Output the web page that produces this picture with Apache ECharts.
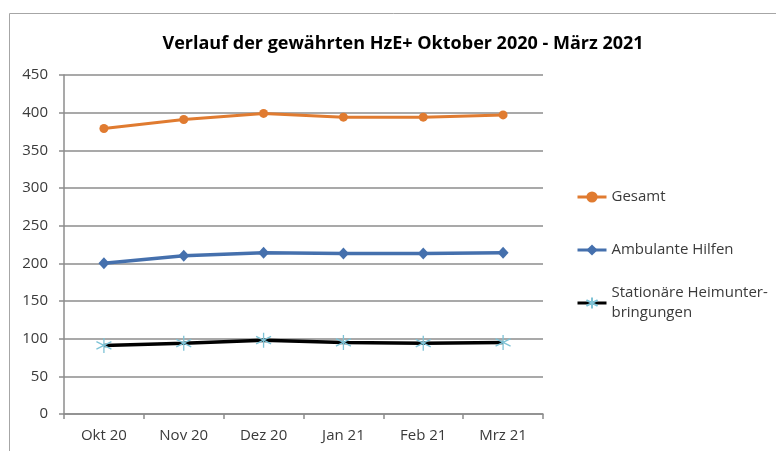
<!DOCTYPE html>
<html>
<head>
<meta charset="utf-8">
<script src="https://cdn.jsdelivr.net/npm/echarts@6/dist/echarts.min.js"></script>
<style>
html,body{margin:0;padding:0;background:#fff;}
#c{width:776px;height:451px;}
</style>
</head>
<body>
<div id="c"></div>
<script>
const categories = ['Okt 20', 'Nov 20', 'Dez 20', 'Jan 21', 'Feb 21', 'Mrz 21'];
const gesamt = [379, 391, 399, 394, 394, 397];
const ambulant = [200, 210, 214, 213, 213, 214];
const stationaer = [91, 94, 98, 95, 94, 95];
const seriesNames = ['Gesamt', 'Ambulante Hilfen', 'Stationäre Heimunterbringungen'];
const yTicks = { min: 0, max: 450, interval: 50 };
const titleText = 'Verlauf der gewährten HzE+ Oktober 2020 - März 2021';

const FONT = 'Open Sans';
const txt = '#3a3a3a';
const gridCol = '#8c8c8c';
const starPath = 'path://M0,-10L0,10M-8.66,-5L8.66,5M-8.66,5L8.66,-5';

const chart = echarts.init(document.getElementById('c'));
const legendText = { fontFamily: FONT, fontSize: 15, color: txt, lineHeight: 20 };
const legendBase = { left: 571, itemWidth: 29, itemHeight: 14, itemGap: 0, textStyle: legendText, lineStyle: { width: 3 } };
chart.setOption({
  animation: false,
  backgroundColor: '#fff',
  title: {
    text: titleText, left: 398, top: 30, textAlign: 'center',
    textStyle: { fontFamily: FONT, fontWeight: 'bold', fontSize: 18, color: '#000' }
  },
  graphic: [{
    type: 'rect', shape: { x: 9.5, y: 13.5, width: 800, height: 500 },
    style: { fill: 'none', stroke: '#a6a6a6', lineWidth: 1 }, silent: true, z: -1
  }],
  legend: [
    Object.assign({}, legendBase, { data: [seriesNames[0]], top: 182 }),
    Object.assign({}, legendBase, { data: [seriesNames[1]], top: 235 }),
    Object.assign({}, legendBase, { data: [seriesNames[2]], top: 268,
      formatter: () => 'Stationäre Heimunter-\nbringungen',
      textStyle: Object.assign({}, legendText, { padding: [20, 0, 0, 0] }) })
  ],
  grid: { left: 64, right: 233, top: 75, bottom: 37, containLabel: false },
  xAxis: {
    type: 'category', data: categories, boundaryGap: true,
    axisLine: { lineStyle: { color: gridCol, width: 1.5 } },
    axisTick: { show: true, length: 5, lineStyle: { color: gridCol, width: 1.5 } },
    axisLabel: { fontFamily: FONT, fontSize: 15, color: txt, margin: 14 }
  },
  yAxis: {
    type: 'value', min: yTicks.min, max: yTicks.max, interval: yTicks.interval,
    axisLine: { show: true, lineStyle: { color: gridCol, width: 1.5 } },
    axisTick: { show: true, length: 5, lineStyle: { color: gridCol, width: 1.5 } },
    splitLine: { lineStyle: { color: gridCol, width: 1.5 } },
    axisLabel: { fontFamily: FONT, fontSize: 15, color: txt, margin: 16 }
  },
  series: [
    {
      name: seriesNames[0], type: 'line', data: gesamt,
      symbol: 'circle', symbolSize: 9,
      lineStyle: { color: '#e07b30', width: 3 },
      itemStyle: { color: '#e07b30' }
    },
    {
      name: seriesNames[1], type: 'line', data: ambulant,
      symbol: 'diamond', symbolSize: [11, 12],
      lineStyle: { color: '#4570ad', width: 3.5 },
      itemStyle: { color: '#4570ad' }
    },
    {
      name: seriesNames[2], type: 'line', data: stationaer,
      symbol: starPath, symbolSize: 15,
      lineStyle: { color: '#000', width: 3.5 },
      itemStyle: { color: 'rgba(0,0,0,0)', borderColor: '#7ec3d6', borderWidth: 1.3 }
    }
  ]
});
</script>
</body>
</html>
